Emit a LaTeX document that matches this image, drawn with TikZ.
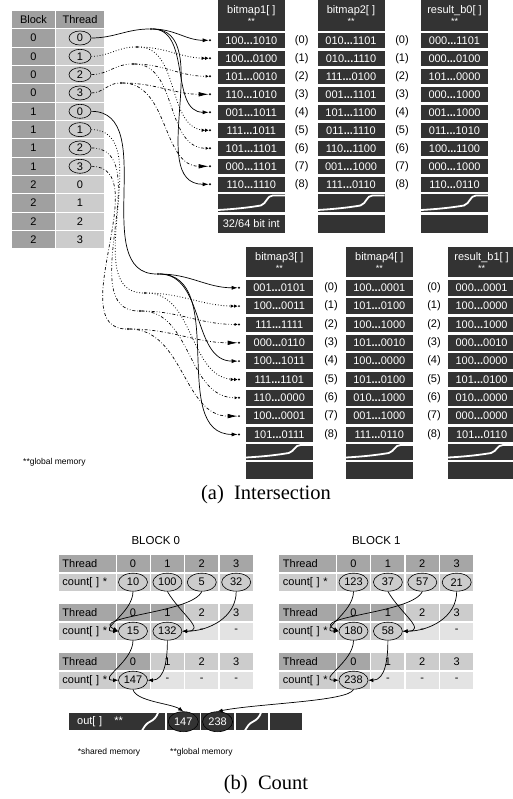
\documentclass[tikz,border=0pt]{standalone}
\usepackage{fontspec}
\setmainfont{Liberation Sans}
\newfontfamily\capfont{Liberation Serif}
\usepackage{tikz}
\usetikzlibrary{shapes.geometric, arrows.meta, positioning, calc}

\definecolor{blkgray}{HTML}{A0A0A0}
\definecolor{thrgray}{HTML}{CCCCCC}
\definecolor{memgray}{HTML}{333333}
\definecolor{cntdark}{HTML}{A6A6A6}
\definecolor{cntlight}{HTML}{CCCCCC}
\definecolor{cntpale}{HTML}{E3E3E3}

\newcommand{\cellfont}{\fontsize{11}{12}\selectfont}
\newcommand{\starfont}{\fontsize{9}{9}\selectfont}
\newcommand{\notefont}{\fontsize{8.5}{10}\selectfont}
\newcommand{\bd}{{\bfseries...}}

\tikzset{
  tabcell/.style={
    rectangle, inner sep=0pt, font=\cellfont, text=black
  },
  blkcell/.style={tabcell, fill=blkgray, minimum width=43pt, minimum height=17.3pt},
  thrcell/.style={tabcell, fill=thrgray, minimum width=48pt, minimum height=17.3pt},
  thrval/.style={
    ellipse, draw, line width=.6pt, inner sep=0pt,
    minimum width=22pt, minimum height=14pt, font=\cellfont
  },
  memcell/.style={tabcell, fill=memgray, text=white, minimum width=67pt, minimum height=15.5pt},
  memhead/.style={memcell, align=center, minimum height=31pt},
  wavecell/.style={memcell, minimum height=18pt,
    path picture={
      \draw[white, line width=1.8pt]
        ([yshift=2.5pt]path picture bounding box.south west)
        .. controls +(18pt,1pt) and +(-12pt,-2pt) ..
        ([xshift=-24pt,yshift=7pt]path picture bounding box.south east)
        .. controls +(6pt,2pt) and +(-6pt,0pt) ..
        ([xshift=-12pt,yshift=-1pt]path picture bounding box.north east)
        -- ([yshift=-1pt]path picture bounding box.north east);
    }},
  brkcell/.style={memcell, minimum width=32.5pt, minimum height=16.7pt,
    path picture={
      \draw[white, line width=1.8pt]
        ([xshift=9pt,yshift=-1pt]path picture bounding box.south west)
        .. controls +(3pt,5pt) and +(-4pt,-2pt) ..
        ([xshift=1pt]path picture bounding box.center)
        .. controls +(4pt,2pt) and +(-2pt,-5pt) ..
        ([xshift=-7pt,yshift=1pt]path picture bounding box.north east);
    }},
  idxlbl/.style={font=\cellfont, inner sep=0pt},
  jdot/.style={circle, fill=black, inner sep=0pt, minimum size=2.2pt},
  lblcell/.style={tabcell, minimum height=17pt, text width=49.7pt, inner xsep=3.5pt, align=left},
  cntcell/.style={tabcell, minimum width=33pt, minimum height=17pt},
  cntval/.style={
    ellipse, draw, line width=.6pt, fill=cntlight, inner sep=0pt,
    minimum width=29pt, minimum height=18pt, font=\cellfont
  },
  outval/.style={cntval, fill=memgray, text=white, minimum width=30pt, minimum height=20pt},
  cntarrow/.style={-{Latex[length=5pt,width=4pt]}, line width=.7pt},
  blktitle/.style={font=\fontsize{11.5}{13}\selectfont, inner sep=0pt},
  note/.style={font=\notefont, inner sep=0pt},
  capnode/.style={font=\capfont\fontsize{20.5}{24}\selectfont, inner sep=0pt},
}

\begin{document}
\begin{tikzpicture}[x=1pt, y=1pt,
  th0/.style={line width=.7pt},
  th1/.style={line width=.8pt, dotted},
  th2/.style={line width=.7pt, dash dot dot},
  th3/.style={line width=.7pt, dash dot},
  tip0/.style={-{Latex[length=6pt,width=4pt]}},
  tip1/.style={-{Latex[length=3.5pt,width=3.5pt]Latex[length=3.5pt,width=3.5pt]}},
  tip2/.style={-{Latex[length=3pt,width=3pt]}},
  tip3/.style={-{Latex[length=10pt,width=4.5pt]}},
]
  \useasboundingbox (0,0) rectangle (513,-799);

  % Block / Thread table
  \node[blkcell] (hblk) at (33.5,-19.5) {Block};
  \node[blkcell, minimum width=48pt] (hthr) at (80,-19.5) {Thread};
  \foreach \i in {0,...,11}{
    \pgfmathtruncatemacro{\bno}{\i/4}
    \pgfmathtruncatemacro{\tno}{mod(\i,4)}
    \pgfmathsetmacro{\yy}{-38-18.33*\i}
    \node[blkcell] (blk\i) at (33.5,\yy) {\bno};
    \ifnum\i<8
      \node[thrcell] (thr\i) at (80,\yy) {};
      \node[thrval] (t\i) at (thr\i) {\tno};
    \else
      \node[thrcell] (thr\i) at (80,\yy) {\tno};
    \fi
  }

  % bitmap1, bitmap2, result_b0
  \node[memhead] (m1h) at (251.3,-15.5) {bitmap1[ ]\\[-1pt]{\starfont **}};
  \node[memhead] (m2h) at (351,-15.5) {bitmap2[ ]\\[-1pt]{\starfont **}};
  \node[memhead] (r0h) at (454.5,-15.5) {result\_b0[ ]\\[-1pt]{\starfont **}};
  \foreach \i/\va/\vb/\vc in {
      0/100\bd1010/010\bd1101/000\bd1101,
      1/100\bd0100/010\bd1110/000\bd0100,
      2/101\bd0010/111\bd0100/101\bd0000,
      3/110\bd1010/001\bd1101/000\bd1000,
      4/001\bd1011/101\bd1100/001\bd1000,
      5/111\bd1011/011\bd1110/011\bd1010,
      6/101\bd1101/110\bd1100/100\bd1100,
      7/000\bd1101/001\bd1000/000\bd1000,
      8/110\bd1110/111\bd0110/110\bd0110}{
    \pgfmathsetmacro{\yy}{-40.3-18*\i}
    \node[memcell] (m1r\i) at (251.3,\yy) {\va};
    \node[idxlbl] (ia\i) at (301.7,\yy) {(\i)};
    \node[memcell] (m2r\i) at (351,\yy) {\vb};
    \node[idxlbl] (ib\i) at (402,\yy) {(\i)};
    \node[memcell] (r0r\i) at (454.5,\yy) {\vc};
    \node[jdot] (p\i) at (210,\yy) {};
  }
  \node[wavecell] (m1w) at (251.3,-203.5) {};
  \node[wavecell] (m2w) at (351,-203.5) {};
  \node[wavecell] (r0w) at (454.5,-203.5) {};
  \node[memcell, minimum height=18.3pt] (m1e) at (251.3,-224) {32/64 bit int};
  \node[memcell, minimum height=18.3pt] (m2e) at (351,-224) {};
  \node[memcell, minimum height=18.3pt] (r0e) at (454.5,-224) {};

  % bitmap3, bitmap4, result_b1
  \node[memhead, minimum height=30pt] (m3h) at (279.3,-262.3) {bitmap3[ ]\\[-1pt]{\starfont **}};
  \node[memhead, minimum height=30pt] (m4h) at (379.3,-262.3) {bitmap4[ ]\\[-1pt]{\starfont **}};
  \node[memhead, minimum height=30pt] (r1h) at (481.6,-262.3) {result\_b1[ ]\\[-1pt]{\starfont **}};
  \foreach \i/\va/\vb/\vc in {
      0/001\bd0101/100\bd0001/000\bd0001,
      1/100\bd0011/101\bd0100/100\bd0000,
      2/111\bd1111/100\bd1000/100\bd1000,
      3/000\bd0110/101\bd0010/000\bd0010,
      4/100\bd1011/100\bd0000/100\bd0000,
      5/111\bd1101/101\bd0100/101\bd0100,
      6/110\bd0000/010\bd1000/010\bd0000,
      7/100\bd0001/001\bd1000/000\bd0000,
      8/101\bd0111/111\bd0110/101\bd0110}{
    \pgfmathsetmacro{\yy}{-287.8-18.33*\i}
    \node[memcell, minimum height=15.7pt] (m3r\i) at (279.3,\yy) {\va};
    \node[idxlbl] (ic\i) at (331,\yy) {(\i)};
    \node[memcell, minimum height=15.7pt] (m4r\i) at (379.3,\yy) {\vb};
    \node[idxlbl] (id\i) at (434,\yy) {(\i)};
    \node[memcell, minimum height=15.7pt] (r1r\i) at (481.6,\yy) {\vc};
    \node[jdot] (q\i) at (239,\yy) {};
  }
  \node[wavecell, minimum height=16pt] (m3w) at (279.3,-452) {};
  \node[wavecell, minimum height=16pt] (m4w) at (379.3,-452) {};
  \node[wavecell, minimum height=16pt] (r1w) at (481.6,-452) {};
  \node[memcell, minimum height=16.7pt] (m3e) at (279.3,-470.7) {};
  \node[memcell, minimum height=16.7pt] (m4e) at (379.3,-470.7) {};
  \node[memcell, minimum height=16.7pt] (r1e) at (481.6,-470.7) {};

  % Block 0 threads -> bitmap1 rows
  \node[jdot] (j0) at (151,-29) {};
  \node[jdot] (j1) at (137,-47) {};
  \node[jdot] (j2) at (133,-64) {};
  \node[jdot] (j3) at (121,-83) {};
  \draw[th0] (t0.east) to[out=0,in=180] (j0);
  \draw[th1] (t1.east) to[out=0,in=180] (j1);
  \draw[th2] (t2.east) to[out=0,in=180] (j2);
  \draw[th3] (t3.east) to[out=0,in=180] (j3);
  \foreach \r in {0,4,8} \draw[th0,tip0] (j0) to[out=0,in=180] (p\r);
  \foreach \r in {1,5} \draw[th1,tip1] (j1) to[out=0,in=180] (p\r);
  \foreach \r in {2,6} \draw[th2,tip2] (j2) to[out=0,in=180] (p\r);
  \foreach \r in {3,7} \draw[th3,tip3] (j3) to[out=0,in=180] (p\r);

  % Block 1 threads -> bitmap3 rows
  \node[jdot] (j4) at (158,-274) {};
  \node[jdot] (j5) at (145,-293) {};
  \node[jdot] (j6) at (140,-311) {};
  \node[jdot] (j7) at (128,-329) {};
  \draw[th0] (t4.east) to[out=0,in=180] (j4);
  \draw[th1] (t5.east) to[out=0,in=180] (j5);
  \draw[th2] (t6.east) to[out=0,in=180] (j6);
  \draw[th3] (t7.east) to[out=0,in=180] (j7);
  \foreach \r in {0,4,8} \draw[th0,tip0] (j4) to[out=0,in=180] (q\r);
  \foreach \r in {1,5} \draw[th1,tip1] (j5) to[out=0,in=180] (q\r);
  \foreach \r in {2,6} \draw[th2,tip2] (j6) to[out=0,in=180] (q\r);
  \foreach \r in {3,7} \draw[th3,tip3] (j7) to[out=0,in=180] (q\r);

  \node[note, anchor=west] (gmema) at (23,-462) {**global memory};
  \node[capnode] (capa) at (266,-495) {(a)\hspace{0.5em}Intersection};

  % Count: reduction inside each block
  \foreach \p/\dx/\ttl/\va/\vb/\vc/\vd/\ve/\vf/\vg in {
      a/0/BLOCK 0/10/100/5/32/15/132/147,
      b/220.5/BLOCK 1/123/37/57/21/180/58/238}{
    \node[blktitle] (\p ttl) at (155.8+\dx,-541) {\ttl};
    \foreach \st/\nact in {1/4,2/2,3/1}{
      \pgfmathsetmacro{\yt}{-563.8-49*(\st-1)}
      \pgfmathsetmacro{\yc}{\yt-18.4}
      \pgfmathsetmacro{\xl}{87.3+\dx}
      \node[lblcell, fill=cntdark] (\p\st thr) at (\xl,\yt) {Thread};
      \node[lblcell, fill=cntlight] (\p\st cnt) at (\xl,\yc) {count[ ] *};
      \foreach \kk in {0,...,3}{
        \pgfmathsetmacro{\xk}{133+34.4*\kk+\dx}
        \ifnum\kk<\nact
          \node[cntcell, fill=cntdark] (\p\st h\kk) at (\xk,\yt) {\kk};
          \node[cntcell, fill=cntlight] (\p\st c\kk) at (\xk,\yc) {};
        \else
          \node[cntcell, fill=cntlight] (\p\st h\kk) at (\xk,\yt) {\kk};
          \node[cntcell, fill=cntpale] (\p\st c\kk) at (\xk,\yc) {-};
        \fi
      }
    }
    \node[cntval] (\p e10) at (\p1c0) {\va};
    \node[cntval] (\p e11) at (\p1c1) {\vb};
    \node[cntval] (\p e12) at (\p1c2) {\vc};
    \node[cntval] (\p e13) at (\p1c3) {\vd};
    \node[cntval] (\p e20) at (\p2c0) {\ve};
    \node[cntval] (\p e21) at (\p2c1) {\vf};
    \node[cntval] (\p e30) at (\p3c0) {\vg};
    \draw[cntarrow] (\p e10.south) to[out=-90,in=180,looseness=1.3] (\p e20.west);
    \draw[cntarrow] (\p e12.south) .. controls +(-10,-22) and +(-30,15) .. (\p e20.west);
    \draw[cntarrow] (\p e11.south) to[out=-60,in=0,looseness=1.5] (\p e21.east);
    \draw[cntarrow] (\p e13.south) to[out=-90,in=0] (\p e21.east);
    \draw[cntarrow] (\p e20.south) to[out=-90,in=180,looseness=1.3] (\p e30.west);
    \draw[cntarrow] (\p e21.south) to[out=-90,in=0] (\p e30.east);
  }

  % out[] (global memory)
  \node[memcell, minimum height=16.7pt, text width=50pt, inner xsep=4pt, align=left]
    (outl) at (102.2,-721.7) {out[ ]\hspace{12pt}**};
  \node[brkcell] (out1) at (149,-721.7) {};
  \node[memcell, minimum width=32.5pt, minimum height=16.7pt] (out2) at (183.3,-721.7) {};
  \node[memcell, minimum width=32.5pt, minimum height=16.7pt] (out3) at (217.6,-721.7) {};
  \node[brkcell] (out4) at (251.9,-721.7) {};
  \node[memcell, minimum width=32.5pt, minimum height=16.7pt] (out5) at (286.2,-721.7) {};
  \node[outval] (ov1) at (out2) {147};
  \node[outval] (ov2) at (out3) {238};
  \draw[cntarrow] (ae30.south) .. controls +(3,-12) and +(-12,8) .. (ov1.north);
  \draw[cntarrow] (be30.south) .. controls +(-5,-12) and +(40,8) .. (ov2.north);

  \node[note, anchor=west] (smem) at (77.7,-752.7) {*shared memory};
  \node[note, anchor=west] (gmemb) at (170,-752.7) {**global memory};
  \node[capnode] (capb) at (266,-785) {(b)\hspace{0.5em}Count};
\end{tikzpicture}
\end{document}
